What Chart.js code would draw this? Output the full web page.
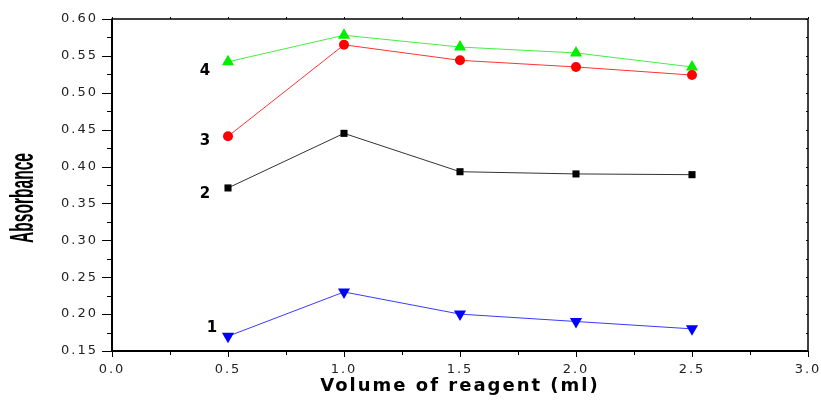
<!doctype html>
<html lang="en">
  <head>
    <meta charset="utf-8">
    <title>Absorbance vs volume of reagent</title>
    <style>
      html, body { margin: 0; padding: 0; background: #fff; }
      #wrap { width: 821px; height: 401px; }
    </style>
  </head>
  <body>
    <div id="wrap"><canvas id="absChart"></canvas></div>

    <script src="https://cdn.jsdelivr.net/npm/chart.js"></script>
    <script>
        // data
        const volumes = [0.5, 1.0, 1.5, 2.0, 2.5];
        const curve1 = [0.170, 0.230, 0.200, 0.190, 0.180];
        const curve2 = [0.371, 0.445, 0.393, 0.390, 0.389];
        const curve3 = [0.441, 0.565, 0.544, 0.535, 0.524];
        const curve4 = [0.542, 0.578, 0.562, 0.554, 0.535];
        const curveNames = ['1', '2', '3', '4'];
        const yTitle = 'Absorbance';

        const toPoints = vals => vals.map((v, i) => ({ x: volumes[i], y: v }));

        // the original uses a wide, spaced-out lettering for ticks and x title
        const spacingPlugin = {
            id: 'spacing',
            beforeLayout(chart) { chart.ctx.letterSpacing = '2px'; },
            beforeDraw(chart) { chart.ctx.letterSpacing = '2px'; }
        };

        // frame + major/minor ticks like the original plot
        const framePlugin = {
            id: 'frame',
            beforeDatasetsDraw(chart) {
                const { ctx, chartArea: a, scales } = chart;
                const xs = scales.x, ys = scales.y;
                ctx.save();
                ctx.strokeStyle = '#000';
                ctx.lineWidth = 1;
                ctx.beginPath();
                for (let v = 0; v <= 3.0001; v += 0.25) {
                    const px = Math.round(xs.getPixelForValue(v)) + 0.5;
                    const major = Math.abs(v * 2 - Math.round(v * 2)) < 1e-6;
                    ctx.moveTo(px, a.bottom); ctx.lineTo(px, a.bottom + (major ? 6 : 4));
                    ctx.moveTo(px, a.top); ctx.lineTo(px, a.top - 2);
                }
                for (let v = 0.15; v <= 0.6001; v += 0.025) {
                    const py = Math.round(ys.getPixelForValue(v)) + 0.5;
                    const major = Math.abs(v * 20 - Math.round(v * 20)) < 1e-6;
                    ctx.moveTo(a.left, py); ctx.lineTo(a.left - (major ? 10 : 5), py);
                    ctx.moveTo(a.right, py); ctx.lineTo(a.right - 2, py);
                }
                ctx.stroke();
                ctx.lineWidth = 1.5;
                ctx.strokeRect(a.left, a.top, a.right - a.left, a.bottom - a.top);
                ctx.lineWidth = 2;
                ctx.beginPath();
                ctx.moveTo(a.left, a.top); ctx.lineTo(a.left, a.bottom); ctx.lineTo(a.right, a.bottom);
                ctx.stroke();
                ctx.restore();
            },
            afterDatasetsDraw(chart) {
                const { ctx, scales, chartArea: a } = chart;
                ctx.save();
                ctx.letterSpacing = '0px';
                // curve numbers next to the first point of each curve
                ctx.font = 'bold 15px "DejaVu Sans", sans-serif';
                ctx.fillStyle = '#000';
                ctx.textAlign = 'center';
                ctx.textBaseline = 'middle';
                const dx = [-16, -23, -23, -23];
                const dy = [-8, 6, 5, 9];
                chart.data.datasets.forEach((ds, i) => {
                    const p = ds.data[0];
                    ctx.fillText(curveNames[i],
                        scales.x.getPixelForValue(p.x) + dx[i],
                        scales.y.getPixelForValue(p.y) + dy[i]);
                });
                // tall, condensed y title
                ctx.font = 'bold 22px "Liberation Sans", sans-serif';
                const w = ctx.measureText(yTitle).width;
                ctx.translate(24, (a.top + a.bottom) / 2 + 13);
                ctx.rotate(-Math.PI / 2);
                ctx.scale(90 / w, 1.5);
                ctx.fillText(yTitle, 0, 0);
                ctx.restore();
            }
        };

        const mk = (vals, color, lineColor, style, radius, rotation) => ({
            data: toPoints(vals),
            borderColor: lineColor,
            backgroundColor: color,
            pointBackgroundColor: color,
            pointBorderColor: color,
            pointBorderWidth: 0,
            pointStyle: style,
            pointRadius: radius,
            pointRotation: rotation,
            borderWidth: 1,
            tension: 0
        });

        new Chart(document.getElementById('absChart'), {
            type: 'line',
            data: {
                datasets: [
                    mk(curve1, '#0000ff', '#3a3aff', 'triangle', 7, 180),
                    mk(curve2, '#000000', '#333333', 'rect', 5, 0),
                    mk(curve3, '#ff0000', '#ff3333', 'circle', 5, 0),
                    mk(curve4, '#00ee00', '#44ee44', 'triangle', 7, 0)
                ]
            },
            options: {
                responsive: true,
                maintainAspectRatio: false,
                animation: false,
                layout: { padding: { top: 19, right: 13, left: 0, bottom: 0 } },
                plugins: { legend: { display: false }, tooltip: { enabled: false } },
                scales: {
                    x: {
                        type: 'linear',
                        min: 0, max: 3,
                        grid: { display: true, drawOnChartArea: false, color: 'rgba(0,0,0,0)', tickLength: 6 },
                        border: { display: false },
                        ticks: {
                            stepSize: 0.5, padding: 5, color: '#222',
                            font: { family: '"DejaVu Sans", sans-serif', size: 13 },
                            callback: v => v.toFixed(1)
                        },
                        title: {
                            display: true,
                            text: 'Volume of reagent (ml)',
                            color: '#000',
                            font: { family: '"DejaVu Sans", sans-serif', size: 18, weight: 'bold' },
                            padding: { top: 0, bottom: 4 }
                        },
                        afterFit(scale) {
                            scale.height = 50;
                            scale.paddingLeft = 0;
                            scale.paddingRight = 0;
                        }
                    },
                    y: {
                        min: 0.15, max: 0.60,
                        grid: { display: true, drawOnChartArea: false, color: 'rgba(0,0,0,0)', tickLength: 10 },
                        border: { display: false },
                        ticks: {
                            stepSize: 0.05, padding: 4, color: '#222',
                            font: { family: '"DejaVu Sans", sans-serif', size: 13 },
                            callback: v => v.toFixed(2)
                        },
                        afterFit(scale) {
                            scale.width = 112;
                            scale.paddingTop = 0;
                            scale.paddingBottom = 0;
                        }
                    }
                }
            },
            plugins: [spacingPlugin, framePlugin]
        });
    </script>
  </body>
</html>
